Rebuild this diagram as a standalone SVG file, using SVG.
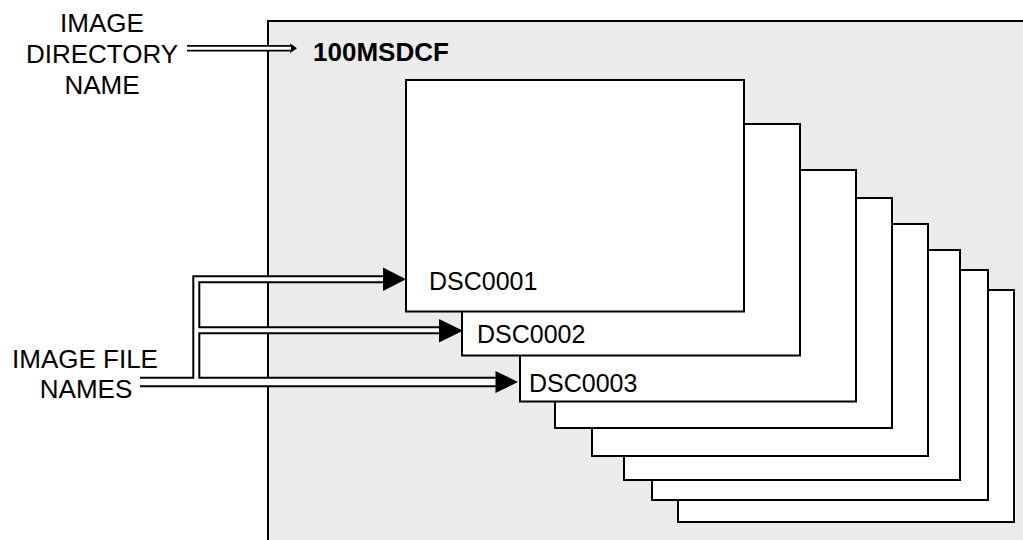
<svg xmlns="http://www.w3.org/2000/svg" width="1023" height="540" viewBox="0 0 1023 540">
<style>
text{font-family:"Liberation Sans",Arial,sans-serif;fill:#000}
.lbl{font-size:26px;text-anchor:middle}
.dsc{font-size:25px}
.card{fill:#fff;stroke:#000;stroke-width:2}
.shaftB{fill:none;stroke:#000;stroke-linejoin:miter}
.shaftW{fill:none;stroke:#fff;stroke-linejoin:miter}
</style>
<rect width="1023" height="540" fill="#fff"/>
<g id="folder">
<rect x="268" y="21" width="800" height="560" fill="#ebebeb" stroke="#000" stroke-width="2"/>
<text x="313" y="61" style="font-size:26px;font-weight:bold">100MSDCF</text>
</g>
<g id="card8"><rect class="card" x="678" y="290" width="336" height="232"/></g>
<g id="card7"><rect class="card" x="652" y="270" width="336" height="230"/></g>
<g id="card6"><rect class="card" x="624" y="250" width="336" height="230"/></g>
<g id="card5"><rect class="card" x="592" y="224" width="336" height="232"/></g>
<g id="card4"><rect class="card" x="555" y="198" width="337" height="230"/></g>
<g id="card3"><rect class="card" x="520" y="170" width="336" height="231.5"/><text class="dsc" x="529" y="392">DSC0003</text></g>
<g id="card2"><rect class="card" x="462" y="124" width="338" height="231.5"/><text class="dsc" x="477" y="342.5">DSC0002</text></g>
<g id="card1"><rect class="card" x="406" y="80" width="338" height="231.5"/><text class="dsc" x="429" y="290">DSC0001</text></g>
<g id="label-dir">
<text class="lbl" x="102" y="31.7">IMAGE</text>
<text class="lbl" x="102" y="63">DIRECTORY</text>
<text class="lbl" x="102" y="93.5">NAME</text>
</g>
<g id="label-files">
<text class="lbl" x="85" y="368">IMAGE FILE</text>
<text class="lbl" x="86" y="398">NAMES</text>
</g>
<g id="connectors">
<path class="shaftB" stroke-width="6.5" d="M187 48.3H292"/>
<path class="shaftW" stroke-width="3" d="M186 48.3H291"/>
<polygon points="290,43.3 297,48.3 290,53.3 291.5,48.3" fill="#000"/>
<path class="shaftB" stroke-width="10.5" d="M140 382H497"/>
<path class="shaftB" stroke-width="8" d="M196.3 382V279.3H385M196.3 330.3H441"/>
<path class="shaftW" stroke-width="6.5" d="M139 382H497"/>
<path class="shaftW" stroke-width="4" d="M196.3 383V279.3H385M196.3 330.3H441"/>
<polygon points="383,267.5 406,279.3 383,291.1" fill="#000"/>
<polygon points="439,319 463,330.8 439,342.6" fill="#000"/>
<polygon points="495.5,371 518,382 495.5,393" fill="#000"/>
</g>
</svg>
